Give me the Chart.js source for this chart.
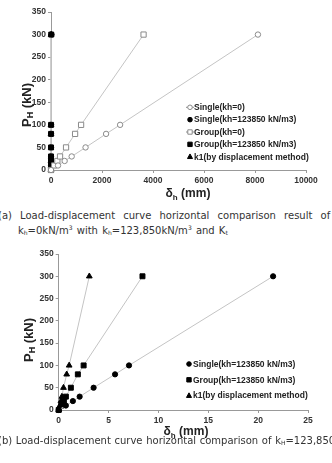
<!DOCTYPE html>
<html>
<head>
<meta charset="utf-8">
<script src="https://cdn.jsdelivr.net/npm/chart.js@4.4.0/dist/chart.umd.min.js"></script>
<style>
  body { margin: 0; width: 332px; height: 463px; overflow: hidden; background: #fff; position: relative; font-family: "DejaVu Sans", sans-serif; }
  .box { position: absolute; left: 0; width: 332px; height: 200px; }
  #box1 { top: 0; }
  #box2 { top: 240px; }
  .cap { position: absolute; white-space: nowrap; font-size: 10px; color: #333; word-spacing: 5px; line-height: 12px; }
  .cap sub { font-size: 6px; vertical-align: -1px; }
  .cap sup { font-size: 6px; vertical-align: 4px; }
</style>
</head>
<body>
<div class="box" id="box1"><canvas id="chart1"></canvas></div>
<div class="cap" style="left:-2px;top:210px">(a) Load-displacement curve horizontal comparison result of</div>
<div class="cap" style="left:18px;top:222px;word-spacing:1px">k<sub>h</sub>=0kN/m<sup>3</sup> with k<sub>h</sub>=123,850kN/m<sup>3</sup> and K<sub>t</sub></div>
<div class="box" id="box2"><canvas id="chart2"></canvas></div>
<div class="cap" style="left:-2px;top:435px;word-spacing:0.5px">(b) Load-displacement curve horizontal comparison of k<sub>H</sub>=123,850</div>
<div class="cap" style="left:18px;top:462px;word-spacing:1px">0kN/m<sup>3</sup> and K<sub>t</sub></div>

<script>
// horizontal load steps (kN)
const loads = [0, 10, 20, 30, 50, 80, 100, 300];

// displacement (mm), kh = 0
const singleKh0 = [0, 275, 535, 811, 1355, 2160, 2710, 8115];
const groupKh0 = [0, 125, 250, 355, 590, 945, 1180, 3630];

// displacement (mm), kh = 123850 kN/m3
const singleKh = [0, 0.72, 1.42, 2.1, 3.5, 5.65, 7.05, 21.5];
const groupKh = [0, 0.28, 0.52, 0.72, 1.22, 1.92, 2.5, 8.4];
const k1Disp = [0, 0.12, 0.22, 0.32, 0.48, 0.8, 1.05, 3.07];

const yTicksMax = 350;

const LINE = "#c4c4c4";
const GREY = "#8a8a8a";

function pts(xs) {
  return xs.map((x, i) => ({ x: x, y: loads[i] }));
}

const styles = {
  singleKh0: { label: "Single(kh=0)", pointStyle: "circle", r: 2.7, fill: "#fff", stroke: GREY, line: true },
  singleKh: { label: "Single(kh=123850 kN/m3)", pointStyle: "circle", r: 2.6, fill: "#000", stroke: "#000", line: false },
  groupKh0: { label: "Group(kh=0)", pointStyle: "rect", r: 3.7, fill: "#fff", stroke: GREY, line: true },
  groupKh: { label: "Group(kh=123850 kN/m3)", pointStyle: "rect", r: 3.5, fill: "#000", stroke: "#000", line: false },
  k1: { label: "k1(by displacement method)", pointStyle: "triangle", r: 3.3, fill: "#000", stroke: "#000", line: false },
};

function dataset(key, values) {
  const s = styles[key];
  return {
    label: s.label,
    data: pts(values),
    showLine: true,
    borderColor: LINE,
    borderWidth: 1,
    pointStyle: s.pointStyle,
    pointRadius: s.r,
    pointHoverRadius: s.r,
    pointBackgroundColor: s.fill,
    pointBorderColor: s.stroke,
    pointBorderWidth: 1,
    clip: false,
  };
}

// small marker for the hand drawn legend
function marker(ctx, style, x, y, r) {
  ctx.save();
  ctx.fillStyle = style.fill;
  ctx.strokeStyle = style.stroke;
  ctx.lineWidth = 1;
  ctx.beginPath();
  if (style.pointStyle === "circle") {
    ctx.arc(x, y, r, 0, Math.PI * 2);
  } else if (style.pointStyle === "rect") {
    ctx.rect(x - r, y - r, r * 2, r * 2);
  } else {
    ctx.moveTo(x, y - r * 1.2);
    ctx.lineTo(x + r * 1.1, y + r * 0.8);
    ctx.lineTo(x - r * 1.1, y + r * 0.8);
    ctx.closePath();
  }
  ctx.fill();
  ctx.stroke();
  ctx.restore();
}

// text with a subscript, centred on x
function subText(ctx, main, sub, rest, x, y, size) {
  const big = "bold " + size + "px 'Liberation Sans', sans-serif";
  const small = "bold " + Math.round(size * 0.68) + "px 'Liberation Sans', sans-serif";
  ctx.font = big;
  const w1 = ctx.measureText(main).width;
  const w3 = ctx.measureText(rest).width;
  ctx.font = small;
  const w2 = ctx.measureText(sub).width;
  let left = x - (w1 + w2 + w3) / 2;
  ctx.textBaseline = "alphabetic";
  ctx.textAlign = "left";
  ctx.font = big;
  ctx.fillText(main, left, y);
  ctx.font = small;
  ctx.fillText(sub, left + w1, y + size * 0.22);
  ctx.font = big;
  ctx.fillText(rest, left + w1 + w2, y);
}

function decoPlugin(cfg) {
  return {
    id: "deco",
    afterDraw(chart) {
      const ctx = chart.ctx;
      ctx.save();
      ctx.fillStyle = "#222";
      // x title
      subText(ctx, "δ", "h", " (mm)", cfg.xTitleX, cfg.xTitleY, 12);
      // y title (rotated)
      ctx.save();
      ctx.translate(cfg.yTitleX, cfg.yTitleY);
      ctx.rotate(-Math.PI / 2);
      subText(ctx, "P", "H", " (kN)", 0, 4.5, 13);
      ctx.restore();
      // legend
      cfg.legend.forEach((key, i) => {
        const s = styles[key];
        const y = cfg.legendY + i * cfg.legendGap;
        if (s.line) {
          ctx.strokeStyle = GREY;
          ctx.lineWidth = 1;
          ctx.beginPath();
          ctx.moveTo(cfg.legendX - 4, y);
          ctx.lineTo(cfg.legendX + 4, y);
          ctx.stroke();
        }
        marker(ctx, s, cfg.legendX, y, s.pointStyle === "rect" ? 2.2 : 2.3);
        ctx.fillStyle = "#222";
        ctx.font = "bold 8.5px 'Liberation Sans', sans-serif";
        ctx.textAlign = "left";
        ctx.textBaseline = "middle";
        ctx.fillText(s.label, cfg.legendX + 4, y + 0.5);
      });
      ctx.restore();
    },
  };
}

function axes(xMax, xStep, yWidth) {
  const tickFont = { family: "'Liberation Sans', sans-serif", weight: "bold", size: 8.5 };
  return {
    x: {
      type: "linear",
      min: 0,
      max: xMax,
      ticks: { stepSize: xStep, color: "#333", font: tickFont, padding: 3, maxRotation: 0, callback: (v) => String(v) },
      grid: { display: true, drawOnChartArea: false, tickLength: 3, color: "#999" },
      border: { color: "#999" },
      afterFit: (scale) => { scale.height = 30; },
    },
    y: {
      type: "linear",
      min: 0,
      max: yTicksMax,
      ticks: { stepSize: 50, color: "#333", font: tickFont, padding: 2, callback: (v) => String(v) },
      grid: { display: true, drawOnChartArea: false, tickLength: 3, color: "#999" },
      border: { color: "#999" },
      afterFit: (scale) => { scale.width = yWidth; },
    },
  };
}

function baseOptions(pad, xMax, xStep, yWidth) {
  return {
    responsive: false,
    animation: false,
    events: [],
    layout: { padding: pad },
    plugins: { legend: { display: false }, tooltip: { enabled: false } },
    scales: axes(xMax, xStep, yWidth),
  };
}

function makeCanvas(id) {
  const c = document.getElementById(id);
  c.width = 332;
  c.height = 200;
  c.style.width = "332px";
  c.style.height = "200px";
  return c;
}

new Chart(makeCanvas("chart1"), {
  type: "scatter",
  data: {
    datasets: [
      dataset("singleKh0", singleKh0),
      dataset("groupKh0", groupKh0),
      dataset("singleKh", singleKh),
      dataset("groupKh", groupKh),
      dataset("k1", k1Disp),
    ],
  },
  options: baseOptions({ top: 12, right: 26, left: 0, bottom: 0 }, 10000, 2000, 51),
  plugins: [decoPlugin({
    xTitleX: 188, xTitleY: 197, yTitleX: 26, yTitleY: 105,
    legend: ["singleKh0", "singleKh", "groupKh0", "groupKh", "k1"],
    legendX: 190, legendY: 107.3, legendGap: 12.35,
  })],
});

new Chart(makeCanvas("chart2"), {
  type: "scatter",
  data: {
    datasets: [
      dataset("singleKh", singleKh),
      dataset("groupKh", groupKh),
      dataset("k1", k1Disp),
    ],
  },
  options: baseOptions({ top: 14, right: 24, left: 0, bottom: 0 }, 25, 5, 58.7),
  plugins: [decoPlugin({
    xTitleX: 186, xTitleY: 195, yTitleX: 28, yTitleY: 100,
    legend: ["singleKh", "groupKh", "k1"],
    legendX: 189, legendY: 124, legendGap: 15.8,
  })],
});
</script>
</body>
</html>
